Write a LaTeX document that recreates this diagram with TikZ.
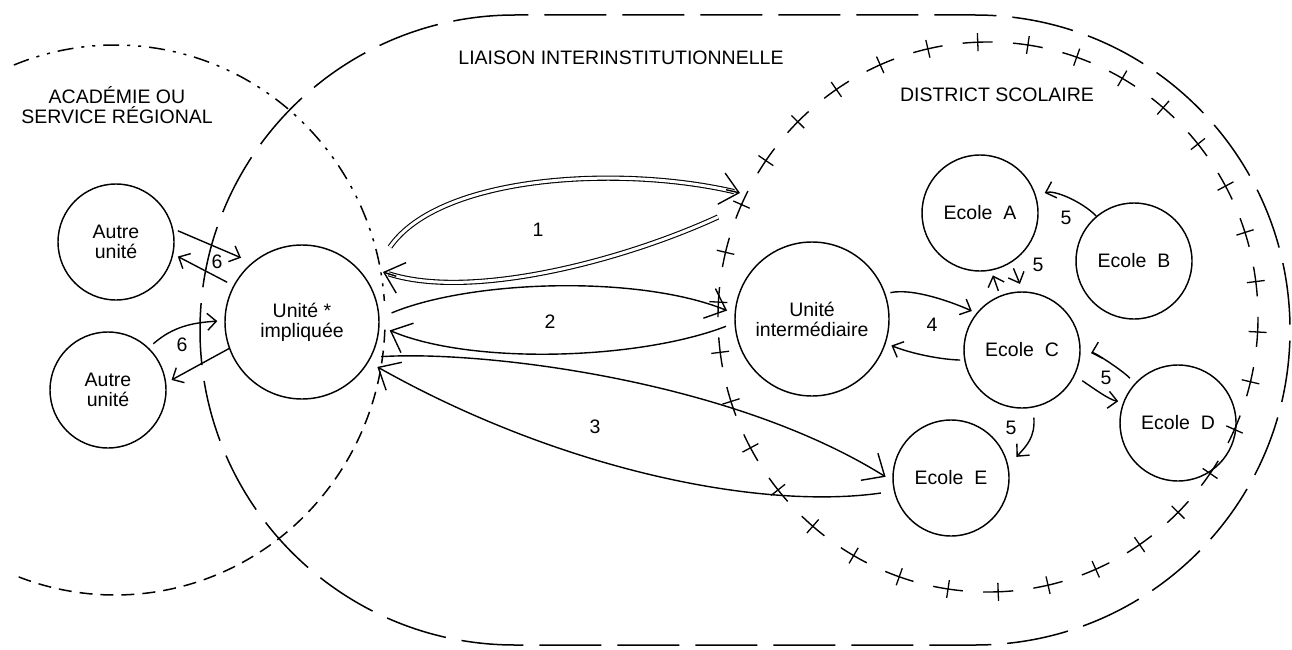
\documentclass[tikz,border=0pt]{standalone}
\usepackage{fontspec}
\setmainfont{Liberation Sans}
\usetikzlibrary{arrows.meta,decorations.markings,calc}
\begin{document}
\begin{tikzpicture}[x=1pt,y=-1pt,
  font=\fontsize{19.5}{20}\selectfont,
  line width=1.45pt,
  unit/.style={circle, draw, minimum size=116pt, inner sep=0pt, align=center},
  bigunit/.style={unit, minimum size=154pt},
  lbl/.style={inner sep=0pt, align=center},
  conn/.style={line width=1.4pt},
  arrS/.style={-{Straight Barb[length=9pt,width=17pt]}},
  arrB/.style={-{Straight Barb[length=18pt,width=32pt]}},
  dbl/.style={double, double distance=3pt, line width=1.1pt},
  academie/.style={line width=1.5pt, dash pattern=on 16pt off 8pt on 3pt off 8pt on 3pt off 8pt},
  academiebas/.style={line width=1.5pt, dash pattern=on 13pt off 8pt},
  liaison/.style={line width=1.5pt, dash pattern=on 62pt off 16pt},
  districtline/.style={line width=1.4pt, dash pattern=on 30pt off 20.36pt,
    postaction={decorate, decoration={markings,
      mark=between positions 15pt and -10pt step 50.36pt with {\draw[solid,line width=1.3pt] (0pt,-9pt) -- (0pt,9pt);}}}},
]
\useasboundingbox (0,0) rectangle (1292,650);

% --- regions ---
% Académie ou service régional
\draw[academie] (115,320) ++(-112:270 and 275) arc[start angle=-112, end angle=-4, x radius=270, y radius=275];
\draw[academiebas] (115,320) ++(2:270 and 275) arc[start angle=2, end angle=112, x radius=270, y radius=275];
% Liaison interinstitutionnelle
\draw[liaison] (515,15) arc[start angle=-90, end angle=-270, radius=315] -- (975,645)
  arc[start angle=90, end angle=-90, radius=315] -- cycle;
% District scolaire
\draw[districtline] (988,317) ellipse [x radius=270, y radius=275];

% --- region labels ---
\node[lbl] (lacad) at (117,105) {ACADÉMIE OU\\SERVICE RÉGIONAL};
\node[lbl] (lliai) at (621,58) {LIAISON INTERINSTITUTIONNELLE};
\node[lbl] (ldist) at (997,95) {DISTRICT SCOLAIRE};

% --- units ---
\node[unit] (au1) at (116,242) {Autre\\unité};
\node[unit] (au2) at (108,390) {Autre\\unité};
\node[bigunit] (imp) at (302,322) {Unité *\\impliquée};
\node[bigunit] (inter) at (812,319) {Unité\\intermédiaire};
\node[unit] (ea) at (980,213) {Ecole~~A};
\node[unit] (eb) at (1134,261) {Ecole~~B};
\node[unit] (ec) at (1022,350) {Ecole~~C};
\node[unit] (ed) at (1178,423) {Ecole~~D};
\node[unit] (ee) at (951,478) {Ecole~~E};

% --- links 6 ---
\draw[conn,arrS,shorten <=5pt,shorten >=12pt] (au1.13) -- (imp.130);
\draw[conn,arrS,shorten <=7pt,shorten >=5pt] (imp.152) -- (au1.-12);
\draw[conn,arrS,shorten <=6pt,shorten >=7pt] (au2.46) .. controls +(25,-22) and +(-30,2) .. (imp.179);
\draw[conn,arrS,shorten >=6pt] (imp.200) -- (au2.7);

% --- links 1 (double lines) ---
\coordinate (s1a) at (390,247);
\coordinate (t1a) at (740,193);
\coordinate (s1b) at (718,217);
\coordinate (t1b) at (383,272);
\draw[dbl,shorten >=6pt] (s1a) .. controls +(50,-72) and +(-120,-28) .. (t1a);
\draw[conn,arrB] ($(t1a)+(-14,-3.3)$) -- (t1a);
\draw[dbl,shorten >=6pt] (s1b) .. controls +(-98,45) and +(87,28) .. (t1b);
\draw[conn,arrB] ($(t1b)+(13.3,4.3)$) -- (t1b);

% --- links 2 ---
\draw[conn,arrB,shorten <=13pt,shorten >=8pt] (imp.3) .. controls +(91,-38) and +(-96,-39) .. (inter.176);
\draw[conn,arrB,shorten <=9pt,shorten >=11pt] (inter.183) .. controls +(-96,37) and +(91,39) .. (imp.-3);

% --- links 3 ---
\draw[conn,arrB,shorten <=10pt,shorten >=8pt] (imp.-27) .. controls +(109,-7) and +(-163,-102) .. (ee.183);
\draw[conn,arrB,shorten <=13pt,shorten >=10pt] (ee.193) .. controls +(-134,19) and +(192,108) .. (imp.-31);

% --- links 4 ---
\draw[conn,arrS,shorten <=5pt,shorten >=5pt] (inter.19) .. controls +(28,-6) and +(-22,-10) .. (ec.141);
\draw[conn,arrS,shorten <=4pt,shorten >=6pt] (ec.190) .. controls +(-30,-1) and +(18,8) .. (inter.-18);

% --- links 5 ---
\draw[conn,arrS,shorten >=9pt] (eb.130) .. controls +(-15,-15) and +(18,-6) .. (ea.17);
\draw[conn,arrS,shorten <=5pt,shorten >=5pt] (ec.112) -- (ea.-79);
\draw[conn,arrS,shorten <=6pt,shorten >=8pt] (ea.-58) -- (ec.89);
\draw[conn,arrS,shorten <=7pt,shorten >=11pt] (ed.138) .. controls +(-10,-12) and +(14,-4) .. (ec.-6);
\draw[conn,arrS,shorten <=9pt,shorten >=5pt] (ec.-26) .. controls +(18,12) and +(-14,-2) .. (ed.159);
\draw[conn,arrS,shorten <=10pt,shorten >=12pt] (ec.-79) .. controls +(2,30) and +(18,-20) .. (ee.12);

% --- link numbers ---
\node[lbl] (n1) at (538,230) {1};
\node[lbl] (n2) at (550,322) {2};
\node[lbl] (n3) at (595,427) {3};
\node[lbl] (n4) at (932,325) {4};
\node[lbl] (n5ab) at (1066,218) {5};
\node[lbl] (n5ac) at (1038,265) {5};
\node[lbl] (n5cd) at (1106,378) {5};
\node[lbl] (n5ce) at (1011,428) {5};
\node[lbl] (n6a) at (217,262) {6};
\node[lbl] (n6b) at (182,345) {6};
\end{tikzpicture}
\end{document}
